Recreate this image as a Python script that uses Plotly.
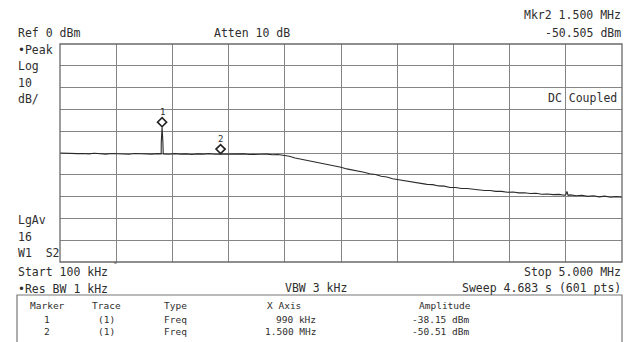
import plotly.graph_objects as go

# ---------------- data ----------------
freq_mhz = [
    0.10, 0.15, 0.20, 0.25, 0.30, 0.35, 0.40, 0.45, 0.50, 0.55,
    0.60, 0.65, 0.70, 0.75, 0.80, 0.85, 0.90, 0.95, 0.982, 0.983,
    0.99, 0.997, 0.998, 1.00, 1.05, 1.10, 1.15, 1.20, 1.25, 1.30,
    1.35, 1.40, 1.45, 1.50, 1.55, 1.60, 1.65, 1.70, 1.75, 1.80,
    1.85, 1.90, 1.95, 2.00, 2.05, 2.10, 2.15, 2.20, 2.25, 2.30,
    2.35, 2.40, 2.45, 2.50, 2.55, 2.60, 2.65, 2.70, 2.75, 2.80,
    2.85, 2.90, 2.95, 3.00, 3.05, 3.10, 3.15, 3.20, 3.25, 3.30,
    3.35, 3.40, 3.45, 3.50, 3.55, 3.60, 3.65, 3.70, 3.75, 3.80,
    3.85, 3.90, 3.95, 4.00, 4.05, 4.10, 4.15, 4.20, 4.25, 4.30,
    4.35, 4.40, 4.45, 4.50, 4.51, 4.52, 4.53, 4.55, 4.60, 4.65,
    4.70, 4.75, 4.80, 4.85, 4.90, 4.95, 5.00,
]
amp_dbm = [
    -50.0, -50.2, -50.1, -50.3, -50.2, -50.4, -50.1, -50.3, -50.5, -50.2,
    -50.4, -50.3, -50.6, -50.2, -50.4, -50.3, -50.5, -50.3, -50.4, -45.0,
    -38.15, -45.0, -50.4, -50.4, -50.6, -50.3, -50.5, -50.4, -50.7, -50.4,
    -50.5, -50.3, -50.6, -50.51, -50.4, -50.6, -50.5, -50.4, -50.7, -50.5,
    -50.6, -50.5, -50.8, -50.7, -51.1, -51.5, -52.3, -52.8, -53.3, -54.0,
    -54.4, -55.1, -55.4, -56.1, -56.5, -57.3, -57.7, -58.4, -58.8, -59.5,
    -59.9, -60.7, -61.0, -61.8, -62.2, -62.9, -63.0, -63.7, -63.8, -64.4,
    -64.5, -65.1, -65.2, -65.8, -65.8, -66.3, -66.3, -66.7, -66.8, -67.2,
    -67.2, -67.6, -67.6, -68.0, -67.9, -68.3, -68.2, -68.6, -68.5, -68.9,
    -68.8, -69.1, -69.0, -69.4, -69.1, -67.6, -69.4, -69.2, -69.6, -69.4,
    -69.9, -69.6, -70.1, -69.8, -70.3, -70.0, -70.3,
]

marker_ids = ["1", "2"]
marker_trace = ["(1)", "(1)"]
marker_type = ["Freq", "Freq"]
marker_freq = [0.99, 1.50]
marker_xtext = ["990 kHz", "1.500 MHz"]
marker_amp = [-38.15, -50.51]

x_start, x_stop = 0.1, 5.0
ref_level, db_per_div = 0.0, 10.0

# ---------------- style ----------------
W, H = 632, 342
L, R, T, B = 60, 10, 44, 80
PW, PH = W - L - R, H - T - B
FONT = "DejaVu Sans Mono"
TXT = "#2e2e2e"
GRID = "#858585"


def px(x):
    return (x - L) / PW


def py(y):
    return (H - B - y) / PH


marker_off_db = 5 / PH * (db_per_div * 10)  # diamond drawn ~5px above the point

fig = go.Figure()
fig.add_trace(go.Scatter(
    x=freq_mhz, y=amp_dbm, mode="lines",
    line=dict(color="#2a2a2a", width=1.1), hoverinfo="skip",
))
fig.add_trace(go.Scatter(
    x=marker_freq, y=[a + marker_off_db for a in marker_amp], mode="markers",
    marker=dict(symbol="diamond-open", size=7, color="#222",
                line=dict(width=1.6, color="#222")),
    hoverinfo="skip",
))

ann = []
for mid, f, a in zip(marker_ids, marker_freq, marker_amp):
    ann.append(dict(x=f, y=a + marker_off_db, xref="x", yref="y", text=mid,
                    showarrow=False, yshift=10, font=dict(size=9, color=TXT, family=FONT)))


def t(text, x, y, anchor="left", size=11.5):
    ann.append(dict(x=px(x), y=py(y), xref="paper", yref="paper", text=text,
                    showarrow=False, xanchor=anchor, yanchor="middle",
                    font=dict(size=size, color=TXT, family=FONT)))


t("Ref 0 dBm", 16, 33)
t("Atten 10 dB", 212, 33)
t("Mkr2 1.500 MHz", 623, 15, "right")
t("-50.505 dBm", 623, 33, "right")
t("•Peak", 16, 50)
t("Log", 16, 66)
t("10", 16, 83)
t("dB/", 16, 99)
t("DC Coupled", 619, 98, "right")
t("LgAv", 16, 220)
t("16", 16, 237)
t("W1  S2", 16, 253)
t(f"Start {int(x_start*1000)} kHz", 16, 272)
t("˜", 111, 266, size=8)
t(f"Stop {x_stop:.3f} MHz", 623, 272, "right")
t("•Res BW 1 kHz", 16, 289)
t("VBW 3 kHz", 283, 288)
t("Sweep 4.683 s (601 pts)", 623, 288, "right")

ts = 9.5
t("Marker", 47, 305, "center", ts)
t("Trace", 106, 305, "center", ts)
t("Type", 162, 305, "left", ts)
t("X Axis", 284, 305, "center", ts)
t("Amplitude", 445, 305, "center", ts)
for i, yy in enumerate([319, 331]):
    t(marker_ids[i], 47, yy, "center", ts)
    t(marker_trace[i], 106, yy, "center", ts)
    t(marker_type[i], 162, yy, "left", ts)
    t(marker_xtext[i], 318, yy, "right", ts)
    t(f"{marker_amp[i]:.2f} dBm", 471, yy, "right", ts)

shapes = [
    dict(type="rect", xref="paper", yref="paper", x0=0, x1=1, y0=0, y1=1,
         line=dict(color="#6a6a6a", width=1.3)),
    dict(type="rect", xref="paper", yref="paper", x0=px(17), x1=px(622),
         y0=py(295), y1=py(360), line=dict(color="#777", width=1.2)),
]

fig.update_layout(
    width=W, height=H, margin=dict(l=L, r=R, t=T, b=B),
    paper_bgcolor="white", plot_bgcolor="white", showlegend=False,
    annotations=ann, shapes=shapes,
    xaxis=dict(range=[x_start, x_stop], dtick=(x_stop - x_start) / 10, tick0=x_start,
               showgrid=True, gridcolor=GRID, gridwidth=1.2, showticklabels=False,
               zeroline=False, ticks="", fixedrange=True),
    yaxis=dict(range=[ref_level - 10 * db_per_div, ref_level], dtick=db_per_div,
               showgrid=True, gridcolor=GRID, gridwidth=1.2, showticklabels=False,
               zeroline=False, ticks="", fixedrange=True),
)

fig.write_html("out.html")
